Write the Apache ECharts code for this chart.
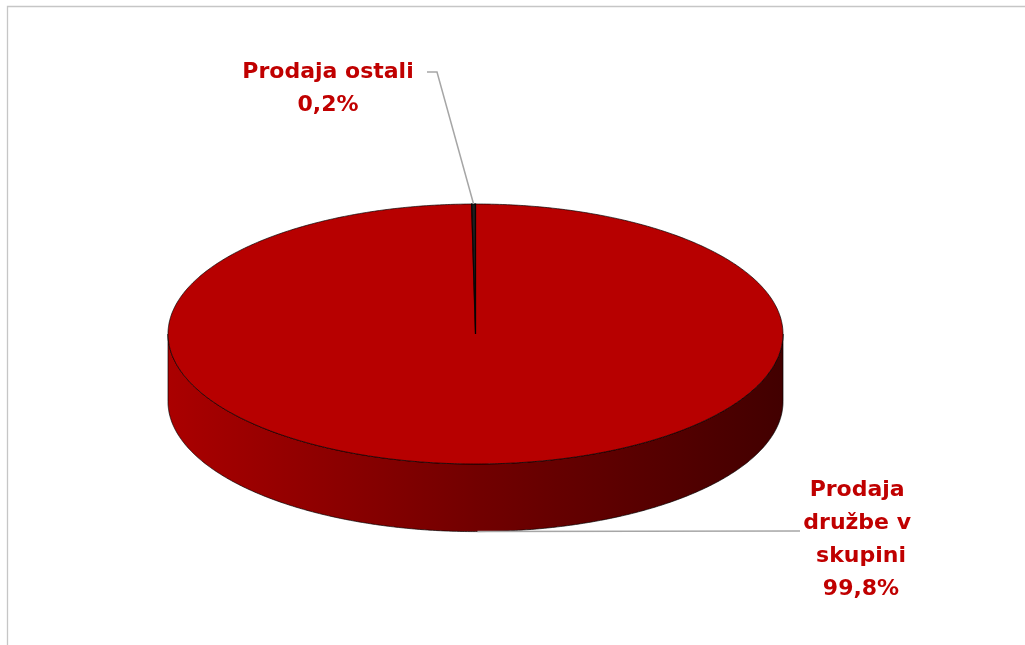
<!DOCTYPE html>
<html>
<head>
<meta charset="utf-8">
<script src="https://cdn.jsdelivr.net/npm/echarts@6/dist/echarts.min.js"></script>
<style>
  html, body { margin: 0; padding: 0; background: #ffffff; }
  #chart { width: 1025px; height: 645px; }
</style>
</head>
<body>
<div id="chart"></div>
<script>
// Sales by customer group, share of total (%)
const categories = ['Prodaja družbe v skupini', 'Prodaja ostali'];
const shares = [99.8, 0.2];

// Face colours per slice: top face, and side gradient (left -> right)
const topColors = ['#b70000', '#1e1e1e'];
const sideColors = [['#aa0000', '#720000', '#420000'], ['#3a3a3a', '#222222', '#111111']];
const edgeWidths = [0.8, 1.3];

// Thickness of the disc, in y-axis units
const DEPTH = 0.52;

// Label placement: text centre, wrap width, leader anchor and bend points
const labelLayout = [
  { pos: [861, 540], wrap: 125, anchor: 'bottom', path: [[800, 531]] },
  { pos: [328, 89], wrap: 0, anchor: 'top', path: [[437, 72], [427, 72]] }
];

const total = shares.reduce((a, b) => a + b, 0);
const startAngles = [];
const spans = [];
{
  let acc = 0;
  shares.forEach(v => {
    startAngles.push(-Math.PI / 2 + 2 * Math.PI * acc / total);
    spans.push(2 * Math.PI * v / total);
    acc += v;
  });
}

function fmtPct(v) {
  return v.toFixed(1).replace('.', ',') + '%';
}

function renderSlice(params, api) {
  const i = params.dataIndex;
  const c = api.coord([0, 0]);
  const sz = api.size([1, 1]);
  const rx = sz[0], ry = sz[1];
  const depth = api.size([0, DEPTH])[1];
  const a0 = startAngles[i];
  const a1 = a0 + spans[i];

  const pt = (a, dy) => [c[0] + rx * Math.cos(a), c[1] + ry * Math.sin(a) + (dy || 0)];
  const arc = (from, to, dy) => {
    const n = Math.max(2, Math.ceil(Math.abs(to - from) * 180 / Math.PI * 2));
    const out = [];
    for (let k = 0; k <= n; k++) out.push(pt(from + (to - from) * k / n, dy));
    return out;
  };

  const edge = 'rgba(0,0,0,0.85)';
  const children = [];

  // front wall: only the part of the slice facing the viewer
  for (const k of [-1, 0, 1]) {
    const lo = Math.max(a0, 2 * Math.PI * k);
    const hi = Math.min(a1, 2 * Math.PI * k + Math.PI);
    if (hi > lo) {
      const stops = sideColors[i];
      children.push({
        type: 'polygon',
        shape: { points: arc(lo, hi, 0).concat(arc(hi, lo, depth)) },
        style: {
          fill: {
            type: 'linear', x: c[0] - rx, y: 0, x2: c[0] + rx, y2: 0, global: true,
            colorStops: [
              { offset: 0, color: stops[0] },
              { offset: 0.5, color: stops[1] },
              { offset: 1, color: stops[2] }
            ]
          },
          stroke: edge, lineWidth: 0.8
        }
      });
    }
  }

  // top face
  children.push({
    type: 'polygon',
    shape: { points: [c].concat(arc(a0, a1, 0)) },
    style: { fill: topColors[i], stroke: edge, lineWidth: edgeWidths[i] }
  });

  // leader line and label
  const lay = labelLayout[i];
  const mid = (a0 + a1) / 2;
  const anchor = lay.anchor === 'bottom' ? pt(mid, depth) : pt(mid, 0);
  children.push({
    type: 'polyline',
    shape: { points: [anchor].concat(lay.path) },
    style: { stroke: '#a6a6a6', lineWidth: 1.5, fill: null }
  });
  const txtStyle = {
    text: categories[i] + '\n' + fmtPct(api.value(2)),
    fill: '#c00000',
    font: 'bold 22px "DejaVu Sans"',
    align: 'center',
    verticalAlign: 'middle',
    lineHeight: 33
  };
  if (lay.wrap) {
    txtStyle.width = lay.wrap;
    txtStyle.overflow = 'break';
  }
  children.push({ type: 'text', x: lay.pos[0], y: lay.pos[1], style: txtStyle });

  return { type: 'group', children: children };
}

const chart = echarts.init(document.getElementById('chart'), null, { renderer: 'canvas' });
chart.setOption({
  animation: false,
  backgroundColor: '#ffffff',
  grid: { left: 168, right: 242, top: 204, bottom: 181 },
  xAxis: { type: 'value', min: -1, max: 1, show: false },
  yAxis: { type: 'value', min: -1, max: 1, show: false },
  graphic: [{
    type: 'rect',
    shape: { x: 7.5, y: 6.5, width: 1040, height: 660 },
    style: { fill: null, stroke: '#c6c6c6', lineWidth: 1.3 },
    silent: true
  }],
  series: [{
    type: 'custom',
    coordinateSystem: 'cartesian2d',
    clip: false,
    renderItem: renderSlice,
    data: shares.map((v, i) => ({ name: categories[i], value: [0, 0, v] }))
  }]
});
</script>
</body>
</html>
